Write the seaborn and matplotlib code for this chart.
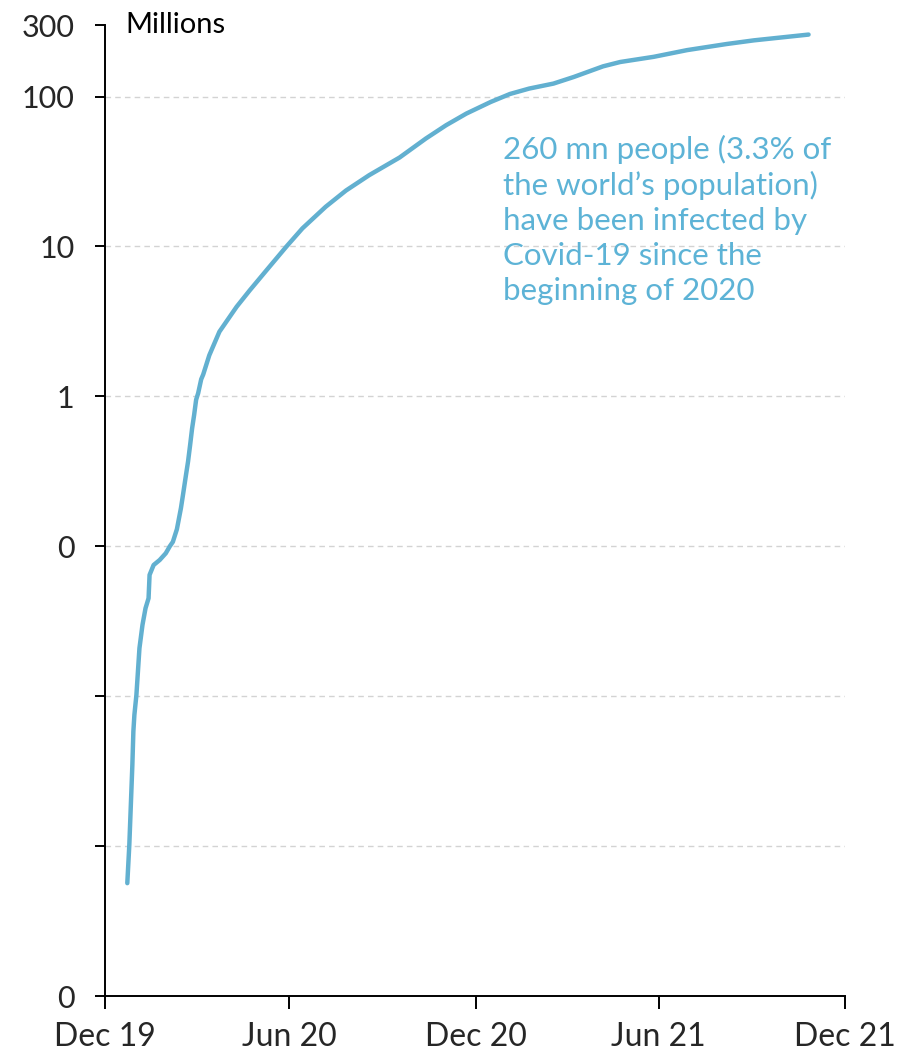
import matplotlib
matplotlib.use("Agg")
import matplotlib.pyplot as plt
from matplotlib.ticker import FixedLocator, FixedFormatter, NullLocator
import pandas as pd
import seaborn as sns

# Cumulative confirmed Covid-19 cases worldwide, millions
dates = [
    "2020-01-22", "2020-01-24", "2020-01-27", "2020-01-28", "2020-01-29",
    "2020-01-31", "2020-02-03", "2020-02-06", "2020-02-09", "2020-02-12",
    "2020-02-13", "2020-02-17", "2020-02-23", "2020-02-29", "2020-03-04",
    "2020-03-07", "2020-03-11", "2020-03-15", "2020-03-17", "2020-03-20",
    "2020-03-22", "2020-03-24", "2020-03-26", "2020-03-28", "2020-03-30",
    "2020-04-01", "2020-04-04", "2020-04-06", "2020-04-12", "2020-04-22",
    "2020-05-09", "2020-05-22", "2020-06-08", "2020-06-27", "2020-07-13",
    "2020-08-05", "2020-08-25", "2020-09-17", "2020-10-17", "2020-11-12",
    "2020-12-02", "2020-12-22", "2021-01-15", "2021-02-03", "2021-02-22",
    "2021-03-18", "2021-04-07", "2021-05-06", "2021-05-23", "2021-06-25",
    "2021-07-28", "2021-09-05", "2021-10-02", "2021-11-25",
]
cases_mn = [
    0.000566, 0.00102, 0.00348, 0.00582, 0.0075,
    0.0102, 0.0209, 0.0299, 0.0386, 0.045,
    0.0644, 0.075, 0.081, 0.0898, 0.100,
    0.107, 0.130, 0.180, 0.220, 0.300,
    0.367, 0.47, 0.61, 0.75, 0.95,
    1.05, 1.30, 1.40, 1.88, 2.7,
    3.96, 5.1, 7.0, 9.95, 13.2,
    18.4, 23.6, 29.9, 39.2, 52.5,
    64.4, 77.0, 92.0, 104.0, 113.0,
    122.0, 135.0, 159.0, 170.0, 184.0,
    204.0, 224.0, 237.0, 259.0,
]

y_ticks = [0.0001, 0.001, 0.01, 0.1, 1, 10, 100, 300]
y_tick_labels = ["0", "", "", "0", "1", "10", "100", "300"]
grid_levels = [0.001, 0.01, 0.1, 1, 10, 100]

x_ticks = ["2019-12-31", "2020-06-30", "2020-12-31", "2021-06-30", "2021-12-31"]
x_tick_labels = ["Dec 19", "Jun 20", "Dec 20", "Jun 21", "Dec 21"]

note = ("260 mn people (3.3% of\nthe world\u2019s population)\n"
        "have been infected by\nCovid-19 since the\nbeginning of 2020")

line_color = "#62B0D0"
text_color = "#5DB3D6"

sns.set_style("white")
plt.rcParams["font.family"] = ["Lato", "DejaVu Sans"]

df = pd.DataFrame({"date": pd.to_datetime(dates), "cases": cases_mn})

fig = plt.figure(figsize=(9, 10.55), dpi=100)
ax = fig.add_axes([0.1167, 0.0559, 0.8222, 0.9204])

sns.lineplot(data=df, x="date", y="cases", ax=ax, color=line_color,
             linewidth=3.2, solid_capstyle="round", solid_joinstyle="round")

ax.set_yscale("log")
ax.set_ylim(0.0001, 300)
xt = pd.to_datetime(x_ticks)
ax.set_xlim(xt[0], xt[-1])

ax.yaxis.set_major_locator(FixedLocator(y_ticks))
ax.yaxis.set_major_formatter(FixedFormatter(y_tick_labels))
ax.yaxis.set_minor_locator(NullLocator())
ax.set_xticks(xt)
ax.set_xticklabels(x_tick_labels)
ax.xaxis.set_minor_locator(NullLocator())

for lvl in grid_levels:
    ax.axhline(lvl, color="#D3D3D3", linewidth=1.0, linestyle=(0, (4, 3)),
               zorder=0)

for side in ("top", "right"):
    ax.spines[side].set_visible(False)
for side in ("left", "bottom"):
    ax.spines[side].set_color("black")
    ax.spines[side].set_linewidth(1.4)

ax.tick_params(axis="y", direction="out", length=7, width=1.4,
               color="black", labelsize=22, pad=15, left=True)
ax.tick_params(axis="x", direction="out", length=9, width=1.4,
               color="black", labelsize=23, pad=10, bottom=True)

ax.set_xlabel("")
ax.set_ylabel("")

ax.text(0.027, 1.0, "Millions", transform=ax.transAxes, fontsize=21,
        ha="left", va="center", color="black")

ax.text(0.538, 0.887, note, transform=ax.transAxes, fontsize=22.5,
        ha="left", va="top", color=text_color, linespacing=1.3)

fig.savefig("out.png", dpi=100, facecolor="white")
